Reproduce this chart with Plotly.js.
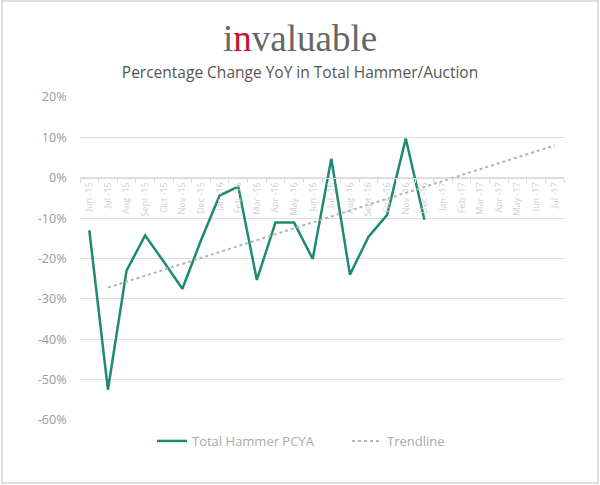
<!DOCTYPE html>
<html>
<head>
<meta charset="utf-8">
<script src="https://cdn.plot.ly/plotly-3.0.1.min.js"></script>
<style>
  html, body { margin: 0; padding: 0; background: #fff; }
  #wrap { position: relative; width: 600px; height: 485px; }
  #chart { position: absolute; left: 0; top: 0; width: 600px; height: 485px; }
  #frame { position: absolute; left: 1px; top: 0px; width: 594px; height: 480px; border: 2px solid #dcdcdc; pointer-events: none; }
</style>
</head>
<body>
<div id="wrap">
  <div id="chart"></div>
  <div id="frame"></div>
</div>
<script>
// Months on the category axis
const months = [
  "Jun -15","Jul -15","Aug -15","Sept -15","Oct -15","Nov -15","Dec -15",
  "Jan -16","Feb -16","Mar -16","Apr -16","May -16","Jun -16","Jul -16",
  "Aug -16","Sept -16","Oct -16","Nov -16","Dec -16",
  "Jan -17","Feb -17","Mar -17","Apr -17","May -17","Jun -17","Jul -17"
];

// Total Hammer PCYA (% change YoY), Jun-15 .. Dec-16
const hammerMonths = months.slice(0, 19);
const hammerPCYA = [
  -13.0, -52.5, -23.0, -14.3, -20.8, -27.5, -15.5,
  -4.4, -2.2, -25.3, -11.1, -11.1, -20.1, 4.7,
  -24.0, -14.6, -9.2, 9.7, -10.4
];

// Trendline end points (Jul-15 .. Jul-17)
const trendMonths = ["Jul -15", "Jul -17"];
const trendValues = [-27.2, 8.0];

const yTicks = [20, 10, 0, -10, -20, -30, -40, -50, -60];
const yTickText = yTicks.map(v => v + "%");

const FONT = "Open Sans, Lato, sans-serif";

const traces = [
  {
    x: hammerMonths, y: hammerPCYA, type: "scatter", mode: "lines",
    name: "Total Hammer PCYA",
    line: { color: "#1f8a72", width: 2.5 }
  },
  {
    x: trendMonths, y: trendValues, type: "scatter", mode: "lines",
    name: "Trendline",
    line: { color: "#b3b3b3", width: 2, dash: "dot" }
  }
];

const layout = {
  width: 600, height: 485,
  margin: { l: 80, r: 36, t: 97, b: 65 },
  paper_bgcolor: "#ffffff", plot_bgcolor: "#ffffff",
  font: { family: FONT, color: "#999" },
  showlegend: true,
  title: {
    text: "Percentage Change YoY in Total Hammer/Auction",
    font: { family: FONT, size: 15.5, color: "#555" },
    x: 0.5, xanchor: "center", xref: "container",
    y: 1 - 73 / 485, yanchor: "middle", yref: "container"
  },
  xaxis: {
    type: "category",
    categoryorder: "array", categoryarray: months,
    range: [-0.5, months.length - 0.5],
    anchor: "free", position: 0.75,
    showgrid: false, zeroline: false,
    showline: true, linecolor: "#dcdcdc", linewidth: 1,
    ticks: "outside", tickson: "boundaries", ticklen: 4, tickcolor: "#dcdcdc",
    tickangle: -90,
    tickfont: { family: FONT, size: 9, color: "#cfcfcf" },
    fixedrange: true
  },
  yaxis: {
    range: [-60, 20],
    tickvals: yTicks, ticktext: yTickText,
    showgrid: true, gridcolor: "#dedede", gridwidth: 1,
    zeroline: false, showline: false,
    ticks: "outside", ticklen: 10, tickcolor: "rgba(0,0,0,0)",
    tickfont: { family: FONT, size: 12.5, color: "#9a9a9a" },
    fixedrange: true
  },
  legend: {
    orientation: "h",
    xref: "container", yref: "container",
    x: 0.5 + 47 / 600, xanchor: "center",
    y: 1 - 441 / 485, yanchor: "middle",
    font: { family: FONT, size: 13, color: "#aaa" },
    itemwidth: 30, entrywidth: 150, tracegroupgap: 0
  },
  annotations: [
    {
      xref: "paper", yref: "paper",
      x: (300 - 80) / 484, y: 1 + (97 - 38) / 323,
      xanchor: "center", yanchor: "middle",
      showarrow: false,
      text: "i<span style='color:#c8102e'>n</span>valuable",
      font: { family: "Liberation Serif, DejaVu Serif, serif", size: 37, color: "#666" }
    }
  ]
};

Plotly.newPlot("chart", traces, layout, { displayModeBar: false, staticPlot: true });
</script>
</body>
</html>
